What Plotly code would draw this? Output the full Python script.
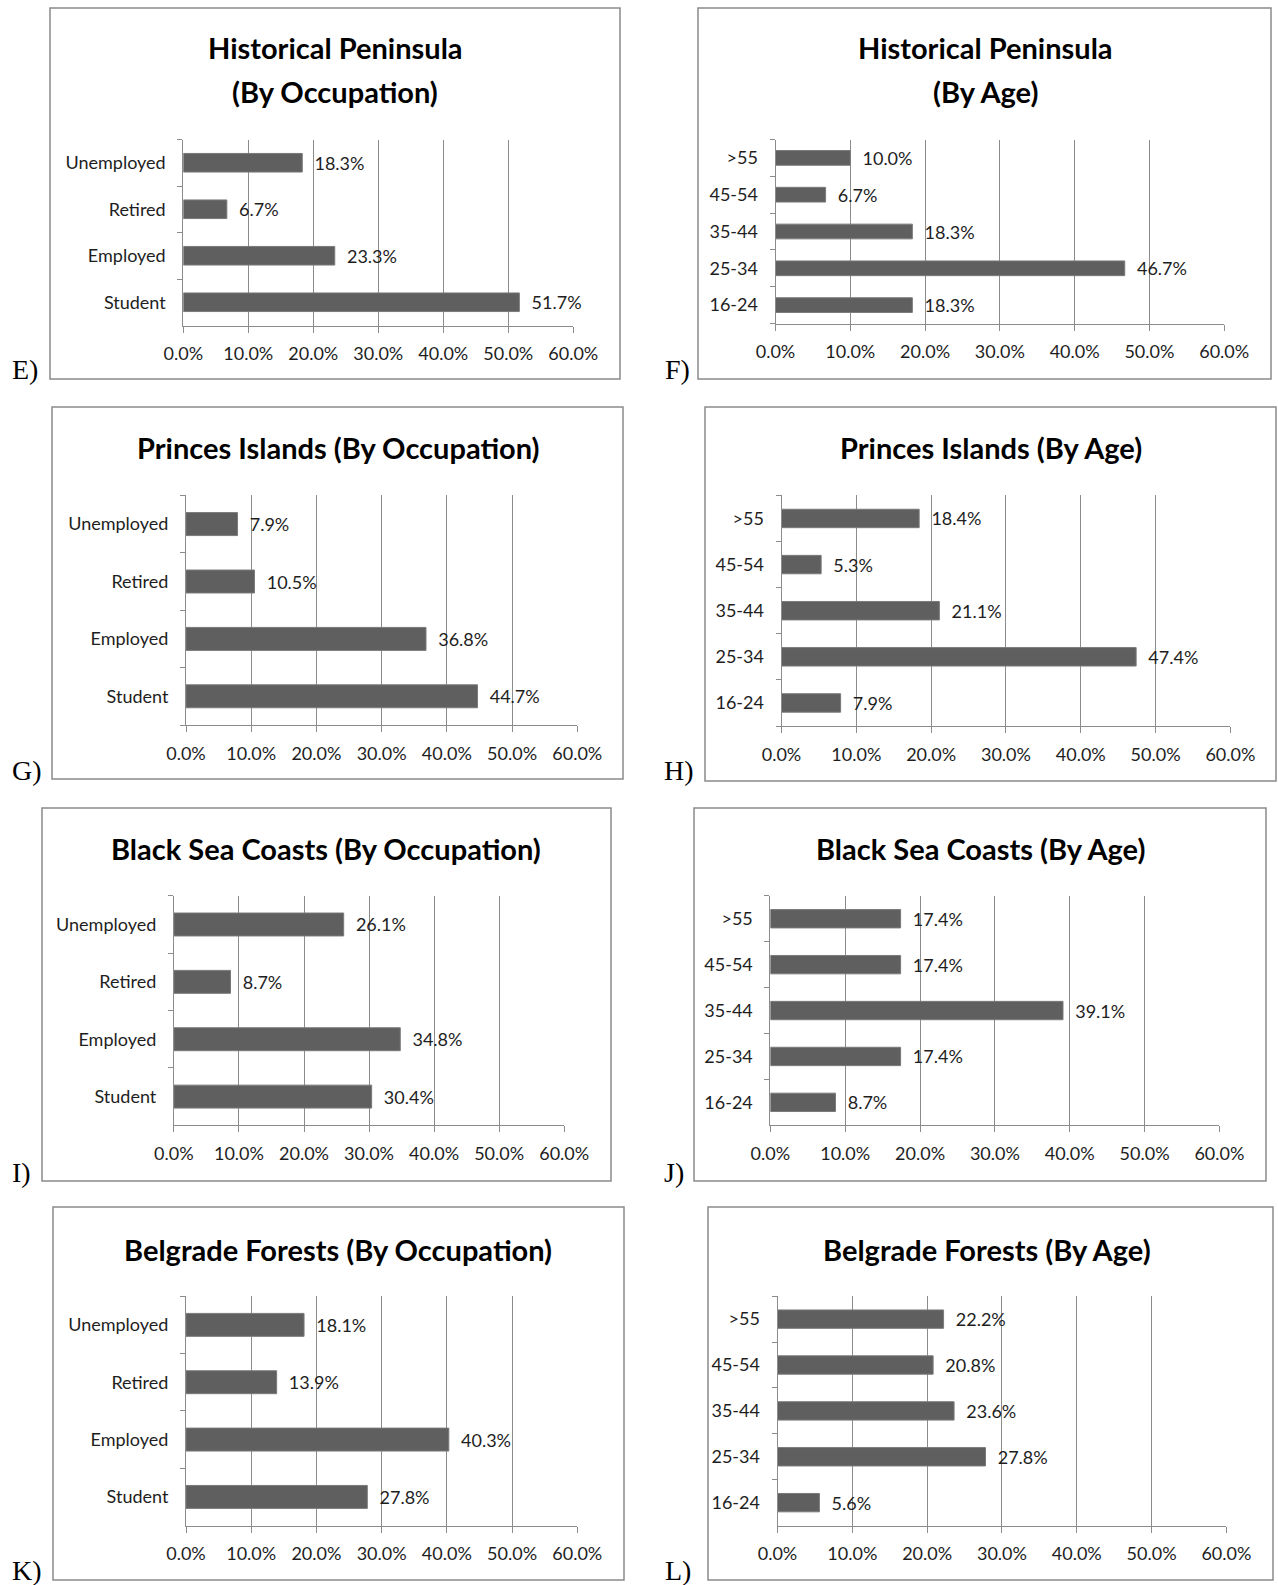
import plotly.graph_objects as go

W, H = 1278, 1585

# ---- data -------------------------------------------------------------
occupation_labels = ["Student", "Employed", "Retired", "Unemployed"]
age_labels = ["16-24", "25-34", "35-44", "45-54", ">55"]

hist_occ = [51.7, 23.3, 6.7, 18.3]
hist_age = [18.3, 46.7, 18.3, 6.7, 10.0]
princes_occ = [44.7, 36.8, 10.5, 7.9]
princes_age = [7.9, 47.4, 21.1, 5.3, 18.4]
black_sea_occ = [30.4, 34.8, 8.7, 26.1]
black_sea_age = [8.7, 17.4, 39.1, 17.4, 17.4]
belgrade_occ = [27.8, 40.3, 13.9, 18.1]
belgrade_age = [5.6, 27.8, 23.6, 20.8, 22.2]

x_tick_vals = [0, 10, 20, 30, 40, 50, 60]
x_tick_text = [f"{v:.1f}%" for v in x_tick_vals]

titles = [
    ["Historical Peninsula", "(By Occupation)"],
    ["Historical Peninsula", "(By Age)"],
    ["Princes Islands (By Occupation)"],
    ["Princes Islands (By Age)"],
    ["Black Sea Coasts (By Occupation)"],
    ["Black Sea Coasts (By Age)"],
    ["Belgrade Forests (By Occupation)"],
    ["Belgrade Forests (By Age)"],
]
panel_letters = ["E)", "F)", "G)", "H)", "I)", "J)", "K)", "L)"]
series = [
    (occupation_labels, hist_occ),
    (age_labels, hist_age),
    (occupation_labels, princes_occ),
    (age_labels, princes_age),
    (occupation_labels, black_sea_occ),
    (age_labels, black_sea_age),
    (occupation_labels, belgrade_occ),
    (age_labels, belgrade_age),
]

# ---- page geometry (pixels) -------------------------------------------
# frame box, plot box (left, right, top, bottom), title centre x, title line ys, letter centre
layout_px = [
    dict(frame=(50, 8, 620, 379), plot=(183.3, 573.3, 139.5, 325.5), tx=335, ty=[48, 91], letter=(25, 369)),
    dict(frame=(698, 8, 1271, 379), plot=(775.5, 1224.2, 139.5, 323.5), tx=985, ty=[48, 91], letter=(677, 369)),
    dict(frame=(52, 407, 623, 779), plot=(186, 577.3, 495.4, 725), tx=338, ty=[447], letter=(27, 770)),
    dict(frame=(705, 407, 1276, 781), plot=(781.5, 1230.4, 495.4, 726), tx=991, ty=[447], letter=(679, 770)),
    dict(frame=(42, 808, 611, 1181), plot=(173.9, 564.2, 895.8, 1125.3), tx=326, ty=[849], letter=(21, 1172)),
    dict(frame=(694, 808, 1266, 1181), plot=(770.4, 1219.4, 895.8, 1125.3), tx=980, ty=[849], letter=(674, 1172)),
    dict(frame=(53, 1207, 624, 1580), plot=(186, 577.3, 1296.2, 1525.6), tx=338, ty=[1249], letter=(27, 1570)),
    dict(frame=(708, 1207, 1273, 1580), plot=(777.5, 1226.4, 1296.2, 1525.6), tx=987, ty=[1249], letter=(678, 1570)),
]

BAR = "#5f5f5f"
GRID = "#8c8c8c"
TEXT = "#1e1e1e"
FONT = "Lato"

def px_x(x):
    return x / W

def px_y(y):
    return 1 - y / H

fig = go.Figure()
shapes = []
annotations = []

for i, ((cats, vals), geo) in enumerate(zip(series, layout_px), start=1):
    xa = f"x{i}" if i > 1 else "x"
    ya = f"y{i}" if i > 1 else "y"
    fig.add_trace(go.Bar(
        x=vals, y=cats, orientation="h",
        xaxis=xa, yaxis=ya,
        marker=dict(color=BAR, line=dict(color="#7a7a7a", width=1)),
        texttemplate="\u00a0\u00a0%{x:.1f}%",
        textposition="outside",
        constraintext="none",
        cliponaxis=False,
        textfont=dict(family=FONT, size=18, color=TEXT),
        hoverinfo="skip",
        showlegend=False,
    ))

    left, right, top, bottom = geo["plot"]
    key = "" if i == 1 else str(i)
    fig.layout[f"xaxis{key}"] = dict(
        domain=[px_x(left), px_x(right)],
        anchor=ya,
        range=[0, 60],
        tickvals=x_tick_vals,
        ticktext=x_tick_text,
        showgrid=True, gridcolor=GRID, gridwidth=1,
        zeroline=False,
        showline=True, linecolor=GRID, linewidth=1,
        ticks="outside", ticklen=6, tickcolor=GRID,
        tickfont=dict(family=FONT, size=18, color=TEXT),
        ticklabelstandoff=6,
        automargin=False,
        fixedrange=True,
    )
    fig.layout[f"yaxis{key}"] = dict(
        domain=[px_y(bottom), px_y(top)],
        anchor=xa,
        type="category",
        categoryorder="array",
        categoryarray=cats,
        range=[-0.5, len(cats) - 0.5],
        showline=True, linecolor=GRID, linewidth=1,
        ticks="outside", ticklen=5, tickcolor=GRID,
        tickson="boundaries",
        showgrid=False,
        tickfont=dict(family=FONT, size=18, color=TEXT),
        ticklabelstandoff=13,
        automargin=False,
        fixedrange=True,
    )

    fx0, fy0, fx1, fy1 = geo["frame"]
    shapes.append(dict(
        type="rect", xref="paper", yref="paper",
        x0=px_x(fx0), x1=px_x(fx1), y0=px_y(fy1), y1=px_y(fy0),
        line=dict(color="#8a8a8a", width=1.5), fillcolor="rgba(0,0,0,0)",
        layer="below",
    ))

    for line_text, ty in zip(titles[i - 1], geo["ty"]):
        annotations.append(dict(
            text=f"<b>{line_text}</b>", xref="paper", yref="paper",
            x=px_x(geo["tx"]), y=px_y(ty), xanchor="center", yanchor="middle",
            showarrow=False, font=dict(family=FONT, size=29, color="#000000"),
        ))

    lx, ly = geo["letter"]
    annotations.append(dict(
        text=panel_letters[i - 1], xref="paper", yref="paper",
        x=px_x(lx), y=px_y(ly), xanchor="center", yanchor="middle",
        showarrow=False, font=dict(family="Liberation Serif", size=28, color="#000000"),
    ))

fig.update_layout(
    width=W, height=H,
    margin=dict(l=0, r=0, t=0, b=0, autoexpand=False),
    paper_bgcolor="white", plot_bgcolor="white",
    bargap=0.6,
    shapes=shapes,
    annotations=annotations,
)

fig.write_html("out.html", config={"displayModeBar": False})
